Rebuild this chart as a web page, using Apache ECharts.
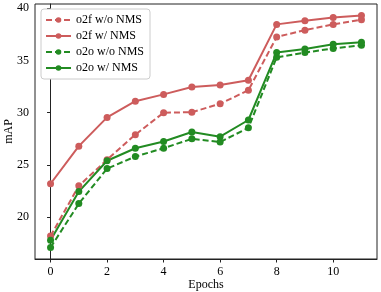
<!DOCTYPE html>
<html><head><meta charset="utf-8">
<script src="https://cdn.jsdelivr.net/npm/echarts@6/dist/echarts.min.js"></script>
<style>html,body{margin:0;padding:0;background:#fff}#c{width:381px;height:292px}</style>
</head><body><div id="c"></div>
<script>
const epochs = [0,1,2,3,4,5,6,7,8,9,10,11];
const o2fWoNMS = [18.2,23.0,25.5,27.9,30.0,30.05,30.85,32.15,37.25,37.9,38.45,38.9];
const o2fWNMS  = [23.2,26.8,29.55,31.1,31.75,32.45,32.65,33.1,38.45,38.8,39.1,39.3];
const o2oWoNMS = [17.1,21.3,24.65,25.8,26.6,27.5,27.2,28.55,35.3,35.75,36.15,36.45];
const o2oWNMS  = [17.8,22.45,25.4,26.6,27.25,28.15,27.7,29.3,35.75,36.1,36.55,36.75];
const xTicks = [0,2,4,6,8,10];
const yTicks = [20,25,30,35,40];
const names = ['o2f w/o NMS','o2f w/ NMS','o2o w/o NMS','o2o w/ NMS'];

const RED = '#cd5c5c', GREEN = '#228b22';
const FONT = 'Liberation Serif';
function mk(name, vals, color, dashed){
  return {
    name, type:'line', data: epochs.map((e,i)=>[e, vals[i]]),
    symbol:'circle', symbolSize:7, showSymbol:true,
    lineStyle:{color, width:2, type: dashed ? [6,3] : 'solid'},
    itemStyle:{color},
    emphasis:{disabled:true}, animation:false
  };
}
const chart = echarts.init(document.getElementById('c'), null, {renderer:'canvas'});
chart.setOption({
  animation:false,
  backgroundColor:'#fff',
  grid:{left:35, right:4, top:4, bottom:33, outerBoundsMode:'none', containLabel:false,
    show:true, borderColor:'#222', borderWidth:1, backgroundColor:'transparent'},
  xAxis:{type:'value', min:-0.55, max:11.55,
    name:'Epochs', nameLocation:'middle', nameGap:20, nameMoveOverlap:false,
    nameTextStyle:{fontFamily:FONT, fontSize:12, color:'#000'},
    axisLine:{show:true, lineStyle:{color:'#222', width:1}},
    axisTick:{show:true, length:3.5, lineStyle:{color:'#222'}, customValues:xTicks},
    axisLabel:{fontFamily:FONT, fontSize:12, color:'#000', margin:7, customValues:xTicks},
    splitLine:{show:false}},
  yAxis:{type:'value', min:16.0, max:40.4,
    name:'mAP', nameLocation:'middle', nameGap:20, nameRotate:90, nameMoveOverlap:false,
    nameTextStyle:{fontFamily:FONT, fontSize:12, color:'#000'},
    axisLine:{show:true, lineStyle:{color:'#222', width:1}},
    axisTick:{show:true, length:3.5, lineStyle:{color:'#222'}, customValues:yTicks},
    axisLabel:{fontFamily:FONT, fontSize:12, color:'#000', margin:6, customValues:yTicks},
    splitLine:{show:false}},
  legend:{data:names, orient:'vertical', left:41, top:9, itemWidth:25, itemHeight:7, itemGap:4,
    padding:[5,6,5,4], backgroundColor:'#fff', borderColor:'#ccc', borderWidth:1, borderRadius:3,
    textStyle:{fontFamily:FONT, fontSize:12, color:'#000'}},
  series:[
    mk(names[0], o2fWoNMS, RED, true),
    mk(names[1], o2fWNMS, RED, false),
    mk(names[2], o2oWoNMS, GREEN, true),
    mk(names[3], o2oWNMS, GREEN, false)
  ]
});
</script></body></html>
